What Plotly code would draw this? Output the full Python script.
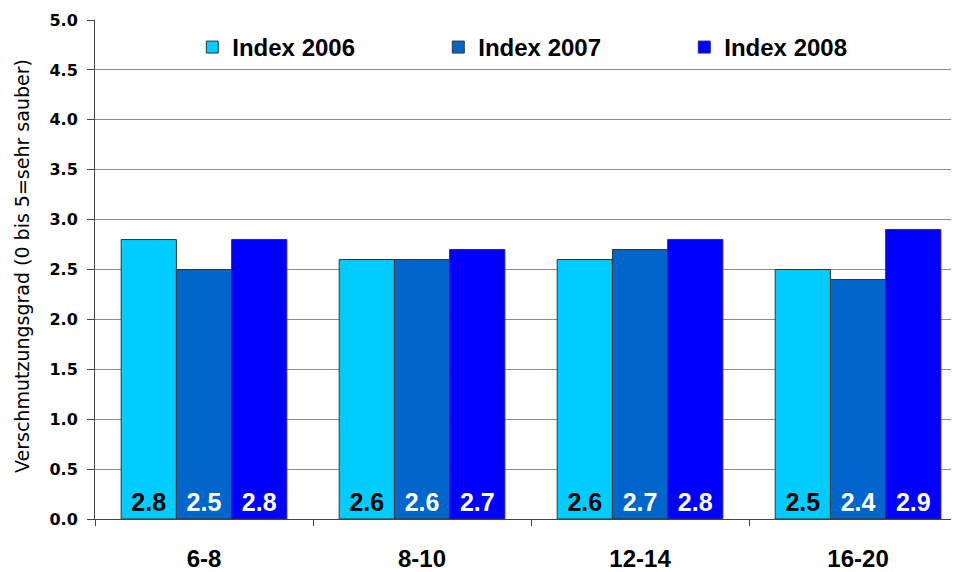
import plotly.graph_objects as go

categories = ["6-8", "8-10", "12-14", "16-20"]
index_2006 = [2.8, 2.6, 2.6, 2.5]
index_2007 = [2.5, 2.6, 2.7, 2.4]
index_2008 = [2.8, 2.7, 2.8, 2.9]
series_names = ["Index 2006", "Index 2007", "Index 2008"]
y_ticks = [0.0, 0.5, 1.0, 1.5, 2.0, 2.5, 3.0, 3.5, 4.0, 4.5, 5.0]
y_title = "Verschmutzungsgrad (0 bis 5=sehr sauber)"

colors = ["#00CCFF", "#0066CC", "#0000FF"]
text_colors = ["#000000", "#FFFFFF", "#FFFFFF"]
line_colors = ["#333333", "#333333", "#2222AA"]
ARIAL = "Liberation Sans, Arial, sans-serif"
WIDE = "DejaVu Sans, sans-serif"

fig = go.Figure()
for name, vals, col, tcol, lcol in zip(series_names, [index_2006, index_2007, index_2008],
                                       colors, text_colors, line_colors):
    fig.add_trace(go.Bar(
        x=categories, y=vals, name=name,
        marker=dict(color=col, line=dict(color=lcol, width=1)),
        text=[f"{v:.1f}" for v in vals],
        textposition="inside", insidetextanchor="start", textangle=0,
        textfont=dict(family=ARIAL, size=25, color=tcol, weight="bold"),
    ))

fig.add_annotation(
    text=y_title, textangle=-90, xref="paper", yref="paper",
    x=-0.0845, y=0.507, xanchor="center", yanchor="middle", showarrow=False,
    font=dict(family=WIDE, size=19, color="#000000"),
)

fig.update_layout(
    width=951, height=564,
    margin=dict(l=87, r=0, t=12, b=53),
    paper_bgcolor="white", plot_bgcolor="white",
    barmode="group", bargap=0.24, bargroupgap=0,
    font=dict(family=ARIAL, color="#000000"),
    showlegend=True,
    legend=dict(
        orientation="h", x=0.1126, y=0.99, xanchor="left", yanchor="top",
        font=dict(family=ARIAL, size=24, weight="bold"),
        bgcolor="rgba(255,255,255,0)", entrywidth=201, itemwidth=30,
    ),
    uniformtext=dict(minsize=10, mode="show"),
)
fig.update_xaxes(
    type="category", range=[-0.5, 3.463],
    showline=True, linecolor="#444444", linewidth=1,
    ticks="outside", tickson="boundaries", ticklen=6, tickcolor="#444444",
    tickfont=dict(family=ARIAL, size=24, weight="bold"),
    ticklabelstandoff=18,
    showgrid=False,
)
fig.update_yaxes(
    range=[0, 5], tickvals=y_ticks, ticktext=[f"{v:.1f}" for v in y_ticks],
    showline=True, linecolor="#444444", linewidth=1,
    ticks="outside", ticklen=7, tickcolor="#444444",
    tickfont=dict(family=WIDE, size=16, weight="bold"),
    ticklabelstandoff=6,
    showgrid=True, gridcolor="#8C8C8C", gridwidth=1,
    zeroline=False,
)

fig.write_html("out.html")
